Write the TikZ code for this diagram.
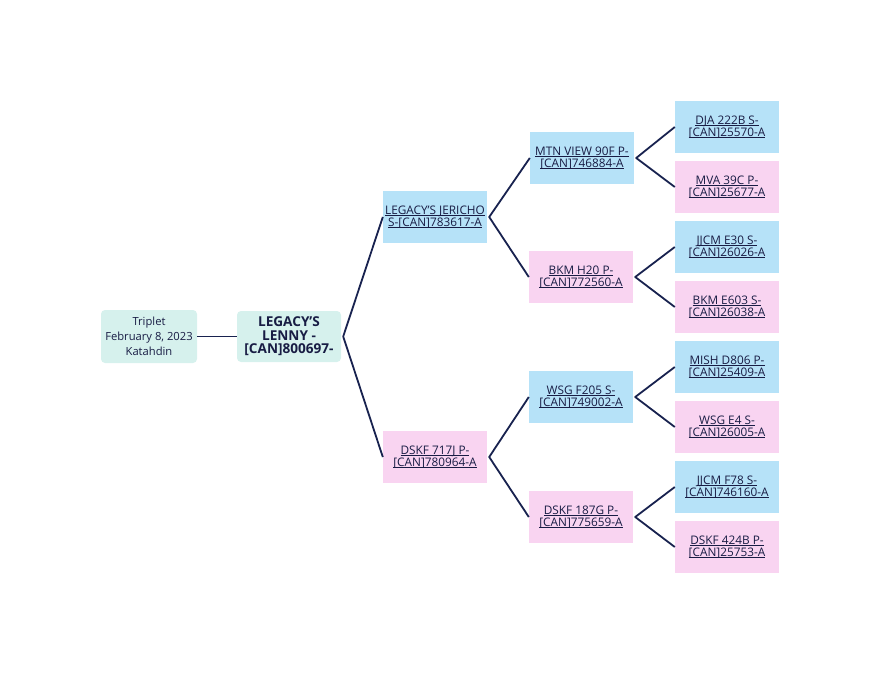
\documentclass[tikz,border=0pt]{standalone}
\usepackage{fontspec}
\setmainfont{Open Sans}
\definecolor{bluebox}{HTML}{B6E2F8}
\definecolor{pinkbox}{HTML}{F9D4F1}
\definecolor{tealbox}{HTML}{D6F1ED}
\definecolor{inkc}{HTML}{181C44}
\definecolor{linec}{HTML}{18224F}
\newcommand\myul[1]{\setbox0=\hbox{#1}\rlap{\rule[-1.8pt]{\wd0}{0.75pt}}\box0}
\tikzset{
  base/.style={minimum width=104pt, minimum height=52pt, inner sep=0pt, align=center,
    text=inkc, font=\fontsize{11.8}{12}\selectfont},
  bluen/.style={base, fill=bluebox},
  pinkn/.style={base, fill=pinkbox},
  conn/.style={draw=linec, line width=1.8pt, line join=round}
}
\begin{document}
\begin{tikzpicture}[x=1pt,y=-1pt]
\useasboundingbox (0,0) rectangle (880,680);
\node[base, fill=tealbox, rounded corners=4pt, minimum width=96pt, minimum height=53pt,
  font=\fontsize{11.2}{15}\selectfont] (trip) at (149,336.5) {Triplet\\February 8, 2023\\Katahdin};
\node[base, fill=tealbox, rounded corners=4pt, minimum height=51pt,
  font=\fontsize{13.6}{13.6}\selectfont\bfseries] (lenny) at (289,336.5) {LEGACY'S\\LENNY -\\{[CAN]800697-}};
% generation 1
\node[bluen] (jer) at (435,217) {\myul{LEGACY'S JERICHO}\\\myul{S-[CAN]783617-A}};
\node[pinkn] (dk717) at (435,457) {\myul{DSKF 717J P-}\\\myul{[CAN]780964-A}};
% generation 2
\node[bluen] (mtn) at (582,158) {\myul{MTN VIEW 90F P-}\\\myul{[CAN]746884-A}};
\node[pinkn] (bkm) at (581,277) {\myul{BKM H20 P-}\\\myul{[CAN]772560-A}};
\node[bluen] (wsg) at (581,397) {\myul{WSG F205 S-}\\\myul{[CAN]749002-A}};
\node[pinkn] (dk187) at (581,517) {\myul{DSKF 187G P-}\\\myul{[CAN]775659-A}};
% generation 3
\node[bluen] (dja) at (727,127) {\myul{DJA 222B S-}\\\myul{[CAN]25570-A}};
\node[pinkn] (mva) at (727,187) {\myul{MVA 39C P-}\\\myul{[CAN]25677-A}};
\node[bluen] (jj30) at (727,247) {\myul{JJCM E30 S-}\\\myul{[CAN]26026-A}};
\node[pinkn] (bkm603) at (727,307) {\myul{BKM E603 S-}\\\myul{[CAN]26038-A}};
\node[bluen] (mish) at (727,367) {\myul{MISH D806 P-}\\\myul{[CAN]25409-A}};
\node[pinkn] (wsge4) at (727,427) {\myul{WSG E4 S-}\\\myul{[CAN]26005-A}};
\node[bluen] (jj78) at (727,487) {\myul{JJCM F78 S-}\\\myul{[CAN]746160-A}};
\node[pinkn] (dk424) at (727,547) {\myul{DSKF 424B P-}\\\myul{[CAN]25753-A}};
% connectors
\draw[conn] (trip.east) -- (lenny.west);
\foreach \p/\a/\b in {lenny/jer/dk717, jer/mtn/bkm, dk717/wsg/dk187,
  mtn/dja/mva, bkm/jj30/bkm603, wsg/mish/wsge4, dk187/jj78/dk424}{
  \draw[conn] (\a.west) -- ([xshift=2pt]\p.east) -- (\b.west);
}
\end{tikzpicture}
\end{document}
